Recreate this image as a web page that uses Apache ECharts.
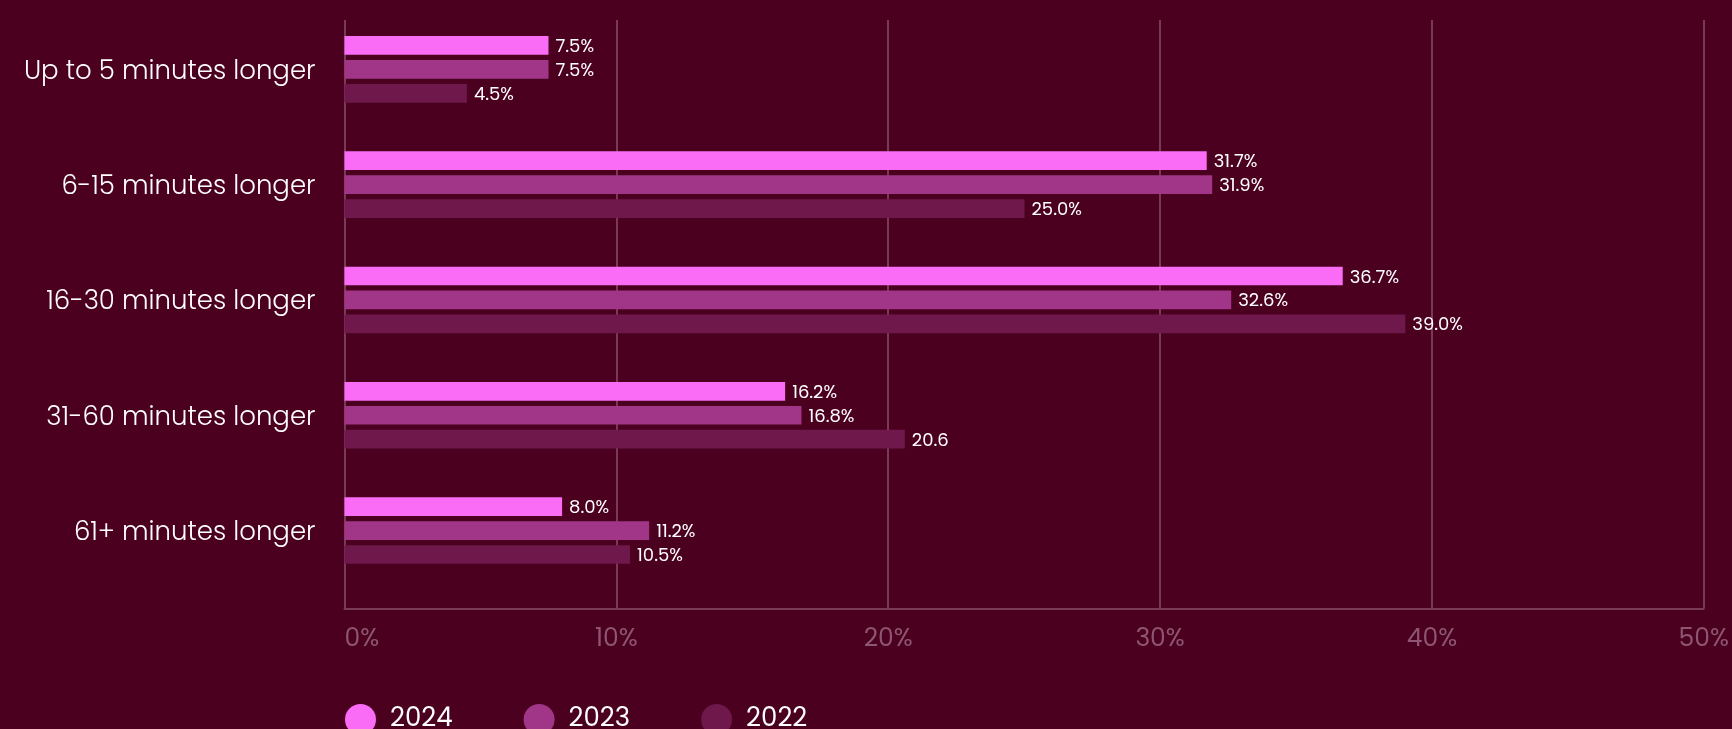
<!DOCTYPE html>
<html>
<head>
<meta charset="utf-8">
<title>Extra commute time</title>
<script src="https://cdn.jsdelivr.net/npm/echarts@6/dist/echarts.min.js"></script>
<style>
  html, body { margin: 0; padding: 0; background: #4B001F; }
  #chart { width: 1732px; height: 729px; }
</style>
</head>
<body>
<div id="chart"></div>
<script>
// Categories (top to bottom)
const categories = [
  'Up to 5 minutes longer',
  '6-15 minutes longer',
  '16-30 minutes longer',
  '31-60 minutes longer',
  '61+ minutes longer'
];

// Share of respondents, percent
const values2024 = [7.5, 31.7, 36.7, 16.2, 8.0];
const values2023 = [7.5, 31.9, 32.6, 16.8, 11.2];
const values2022 = [4.5, 25.0, 39.0, 20.6, 10.5];

// Unit suffix shown after each value label
const units2024 = ['%', '%', '%', '%', '%'];
const units2023 = ['%', '%', '%', '%', '%'];
const units2022 = ['%', '%', '%', '', '%'];

// Value axis ticks
const axisMin = 0;
const axisMax = 50;
const axisStep = 10;

const FONT = 'Poppins, Inter, "Open Sans", sans-serif';
const BG = '#4B001F';
const GRID_COLOR = '#7A3A56';
const AXIS_TEXT = '#8E5673';

const chart = echarts.init(document.getElementById('chart'), null, { renderer: 'canvas' });

function barSeries(name, values, units, color) {
  return {
    name: name,
    type: 'bar',
    xAxisIndex: 0,
    yAxisIndex: 0,
    data: values,
    barWidth: 18.7,
    barGap: '28%',
    itemStyle: { color: color },
    label: {
      show: true,
      position: 'right',
      distance: 7,
      offset: [0, 2],
      color: '#FFFFFF',
      fontFamily: FONT,
      fontSize: 18,
      formatter: p => values[p.dataIndex].toFixed(1) + units[p.dataIndex]
    },
    emphasis: { disabled: true },
    animation: false
  };
}

const option = {
  backgroundColor: BG,
  animation: false,
  textStyle: { fontFamily: FONT },
  legend: {
    data: ['2024', '2023', '2022'],
    left: 340,
    top: 699,
    icon: 'circle',
    itemWidth: 31,
    itemHeight: 31,
    itemGap: 71,
    textStyle: {
      color: '#FFFFFF',
      fontSize: 26,
      fontFamily: FONT,
      padding: [0, 0, 0, 9]
    },
    selectedMode: false
  },
  grid: [
    // bars
    { left: 344.5, right: 27.5, top: 11.7, bottom: 729 - 588.2 },
    // value axis with vertical grid lines
    { left: 344.5, right: 27.5, top: 20, bottom: 729 - 608.3 }
  ],
  xAxis: [
    {
      gridIndex: 0,
      type: 'value',
      min: axisMin,
      max: axisMax,
      interval: axisStep,
      show: false
    },
    {
      gridIndex: 1,
      type: 'value',
      min: axisMin,
      max: axisMax,
      interval: axisStep,
      axisLine: { show: true, lineStyle: { color: GRID_COLOR, width: 2 } },
      axisTick: { show: false },
      splitLine: { show: true, lineStyle: { color: GRID_COLOR, width: 2 } },
      axisLabel: {
        color: AXIS_TEXT,
        fontFamily: FONT,
        fontSize: 25,
        margin: 19,
        alignMinLabel: 'left',
        formatter: v => v + '%'
      }
    }
  ],
  yAxis: [
    {
      gridIndex: 0,
      type: 'category',
      data: categories,
      inverse: true,
      axisLine: { show: false },
      axisTick: { show: false },
      splitLine: { show: false },
      axisLabel: {
        margin: 29,
        formatter: v => '{cat|' + v + '}',
        rich: {
          cat: {
            color: '#FFFFFF',
            fontFamily: FONT,
            fontSize: 26,
            fontWeight: 300,
            padding: [6, 0, 0, 0]
          }
        }
      }
    },
    {
      gridIndex: 1,
      type: 'value',
      min: 0,
      max: 1,
      show: false
    }
  ],
  series: [
    barSeries('2024', values2024, units2024, '#FA6CF6'),
    barSeries('2023', values2023, units2023, '#A13588'),
    barSeries('2022', values2022, units2022, '#6E184C')
  ]
};

chart.setOption(option);
</script>
</body>
</html>
